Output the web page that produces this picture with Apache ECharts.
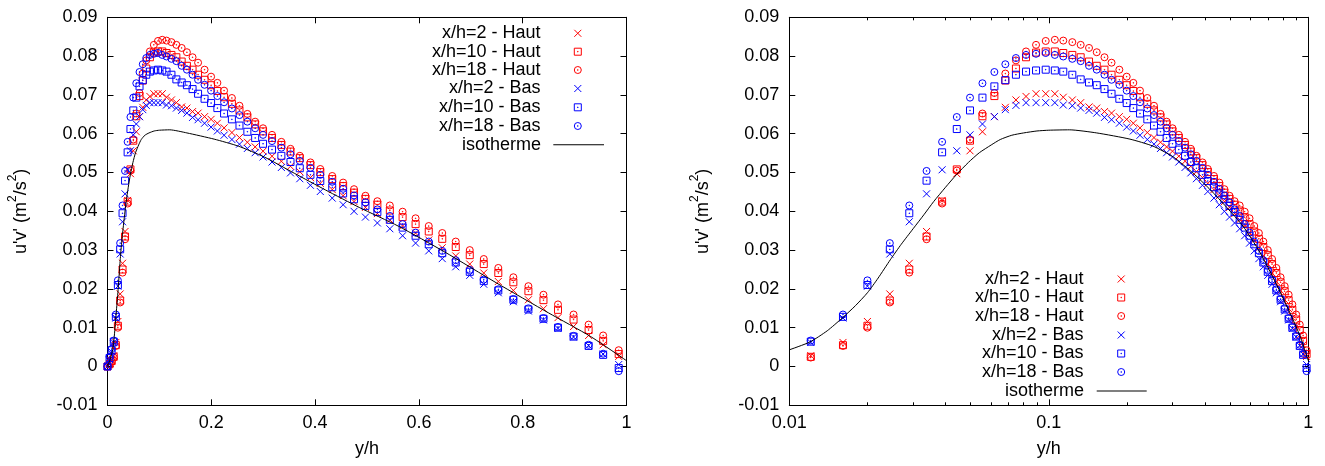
<!DOCTYPE html>
<html><head><meta charset="utf-8">
<script src="https://cdn.jsdelivr.net/npm/echarts@6/dist/echarts.min.js"></script>
<style>html,body{margin:0;padding:0;background:#fff}#c{width:1325px;height:466px}</style>
</head><body><div id="c"></div>
<script>
// ---- data (y/h positions and u'v' values) ----
const xPos = [0, 0.004, 0.008,
  0.0121, 0.0161, 0.0200, 0.0244, 0.0290, 0.0338, 0.0388, 0.0442, 0.0497, 0.0555,
  0.0617, 0.0680, 0.0747, 0.0817, 0.0893, 0.0973, 0.1055, 0.1137, 0.1232, 0.1327,
  0.1429, 0.1530, 0.1639, 0.1745, 0.1870, 0.1996,
  0.2117, 0.2246, 0.2397, 0.2543, 0.2695, 0.2845, 0.2997, 0.317, 0.335, 0.3526,
  0.3705, 0.391, 0.410, 0.433, 0.454, 0.475, 0.497, 0.520, 0.544,
  0.5686, 0.5936, 0.619, 0.645, 0.671, 0.698, 0.725, 0.753, 0.782, 0.811, 0.840,
  0.868, 0.898, 0.927, 0.955, 0.985];

const haut2 = [0, 0.0008, 0.0016,
  0.0028, 0.0062, 0.0116, 0.0187, 0.0266, 0.0348, 0.0428, 0.0497, 0.0556, 0.0605,
  0.0644, 0.0668, 0.0687, 0.0696, 0.0703, 0.0703, 0.0703, 0.0694, 0.0687, 0.0680,
  0.0669, 0.0666, 0.0657, 0.0653, 0.0644, 0.0637,
  0.0627, 0.0615, 0.0603, 0.0590, 0.0578, 0.0566, 0.0555, 0.0542, 0.0529, 0.0516,
  0.0502, 0.0487, 0.0472, 0.0456, 0.0440, 0.0425, 0.0410, 0.0394, 0.0378,
  0.0362, 0.0344, 0.0326, 0.0306, 0.0285, 0.0264, 0.0241, 0.0219, 0.0196, 0.0172,
  0.0149, 0.0126, 0.0103, 0.0080, 0.0056, 0.0026];

const haut10 = [0, 0.0006, 0.0014,
  0.0025, 0.0055, 0.0105, 0.0170, 0.0250, 0.0335, 0.0425, 0.0508, 0.0582, 0.0645,
  0.0697, 0.0737, 0.0768, 0.0797, 0.0809, 0.0812, 0.0812, 0.0808, 0.0803, 0.0797,
  0.0786, 0.0775, 0.0765, 0.0752, 0.0739, 0.0725,
  0.0710, 0.0694, 0.0677, 0.0660, 0.0642, 0.0624, 0.0606, 0.0589, 0.0571, 0.0554,
  0.0537, 0.0519, 0.0501, 0.0483, 0.0465, 0.0448, 0.0432, 0.0417, 0.0402,
  0.0385, 0.0367, 0.0348, 0.0329, 0.0308, 0.0287, 0.0264, 0.0241, 0.0217, 0.0194,
  0.0171, 0.0146, 0.0121, 0.0094, 0.0066, 0.0032];

const haut18 = [0, 0.0005, 0.0013,
  0.0023, 0.0053, 0.0100, 0.0165, 0.0242, 0.0328, 0.0420, 0.0505, 0.0585, 0.0652,
  0.0705, 0.0755, 0.0789, 0.0812, 0.0829, 0.0839, 0.0842, 0.0840, 0.0836, 0.0829,
  0.0821, 0.0810, 0.0797, 0.0783, 0.0765, 0.0747,
  0.0731, 0.0711, 0.0692, 0.0672, 0.0651, 0.0631, 0.0614, 0.0597, 0.0579, 0.0561,
  0.0543, 0.0526, 0.0509, 0.0491, 0.0474, 0.0457, 0.0440, 0.0426, 0.0415,
  0.0399, 0.0382, 0.0362, 0.0344, 0.0322, 0.0300, 0.0277, 0.0254, 0.0230, 0.0207,
  0.0185, 0.0160, 0.0134, 0.0108, 0.0080, 0.0042];

const bas2 = [0, 0.0018, 0.0038,
  0.0062, 0.0125, 0.0207, 0.0290, 0.0373, 0.0445, 0.0507, 0.0556, 0.0597, 0.0625,
  0.0644, 0.0662, 0.0673, 0.0680, 0.0680, 0.0680, 0.0680, 0.0674, 0.0672, 0.0666,
  0.0660, 0.0653, 0.0642, 0.0636, 0.0627, 0.0617,
  0.0607, 0.0596, 0.0585, 0.0573, 0.0562, 0.0551, 0.0540, 0.0527, 0.0513, 0.0499,
  0.0484, 0.0467, 0.0451, 0.0434, 0.0417, 0.0400, 0.0385, 0.0370, 0.0355,
  0.0337, 0.0318, 0.0298, 0.0278, 0.0257, 0.0235, 0.0212, 0.0190, 0.0167, 0.0143,
  0.0120, 0.0098, 0.0076, 0.0054, 0.0032, 0.0005];

const bas10 = [0, 0.0022, 0.0042,
  0.0064, 0.0128, 0.0210, 0.0302, 0.0395, 0.0479, 0.0552, 0.0612, 0.0660, 0.0693,
  0.0722, 0.0738, 0.0752, 0.0760, 0.0763, 0.0765, 0.0763, 0.0760, 0.0752, 0.0740,
  0.0732, 0.0725, 0.0715, 0.0703, 0.0690, 0.0679,
  0.0666, 0.0652, 0.0637, 0.0621, 0.0605, 0.0589, 0.0574, 0.0559, 0.0543, 0.0527,
  0.0511, 0.0494, 0.0478, 0.0462, 0.0446, 0.0431, 0.0414, 0.0398, 0.0378,
  0.0358, 0.0337, 0.0315, 0.0292, 0.0268, 0.0244, 0.0220, 0.0196, 0.0172, 0.0147,
  0.0123, 0.0100, 0.0077, 0.0053, 0.0030, -0.0004];

const bas18 = [0, 0.0025, 0.0045,
  0.0067, 0.0134, 0.0222, 0.0318, 0.0415, 0.0504, 0.0579, 0.0643, 0.0693, 0.0730,
  0.0759, 0.0779, 0.0795, 0.0803, 0.0806, 0.0808, 0.0803, 0.0799, 0.0793, 0.0787,
  0.0775, 0.0765, 0.0752, 0.0739, 0.0726, 0.0711,
  0.0697, 0.0681, 0.0665, 0.0648, 0.0631, 0.0614, 0.0597, 0.0581, 0.0564, 0.0547,
  0.0530, 0.0512, 0.0494, 0.0476, 0.0458, 0.0441, 0.0423, 0.0405, 0.0388,
  0.0367, 0.0345, 0.0322, 0.0298, 0.0274, 0.0249, 0.0224, 0.0199, 0.0174, 0.0150,
  0.0125, 0.0102, 0.0079, 0.0056, 0.0033, -0.0012];

const isoX = [0, 0.005, 0.01, 0.012, 0.014, 0.016, 0.018, 0.02, 0.022, 0.0245, 0.027,
  0.03, 0.033, 0.036, 0.04, 0.044, 0.049, 0.054, 0.06, 0.065, 0.072, 0.08, 0.09, 0.1,
  0.12, 0.153, 0.2055, 0.252, 0.302, 0.36, 0.42, 0.485, 0.56, 0.65,
  0.75, 0.85, 0.93, 1.0];
const isoY = [0, 0.0018, 0.0043, 0.0063, 0.0092, 0.0125, 0.0157, 0.019, 0.0228, 0.0275, 0.0315,
  0.0355, 0.0391, 0.0425, 0.0462, 0.0494, 0.0526, 0.0551, 0.0571, 0.0585, 0.0596, 0.0602, 0.0607, 0.0609,
  0.061, 0.0602, 0.0586, 0.0568, 0.054, 0.0498, 0.0455, 0.041, 0.0362, 0.0295,
  0.0215, 0.0138, 0.0078, 0.0015];

const seriesNames = ['x/h=2 - Haut', 'x/h=10 - Haut', 'x/h=18 - Haut',
                     'x/h=2 - Bas', 'x/h=10 - Bas', 'x/h=18 - Bas'];
const lineName = 'isotherme';
const yTicksMin = -0.01, yTicksMax = 0.09, yTickStep = 0.01;
const logMinorTicks = [0.02, 0.03, 0.04, 0.05, 0.06, 0.07, 0.08, 0.09,
                       0.2, 0.3, 0.4, 0.5, 0.6, 0.7, 0.8, 0.9];

// ---- styling ----
const FONT = 'Liberation Sans, Arial, Helvetica, sans-serif';
const RED = '#ff0000', BLUE = '#0000ff';
const SYM_X = 'path://M0,0L10,10M10,0L0,10';
const SYM_SQ = 'path://M0,0L10,0L10,10L0,10ZM4.6,4.6L5.4,4.6L5.4,5.4L4.6,5.4Z';
const SYM_CI = 'path://M10,5A5,5,0,1,1,0,5A5,5,0,1,1,10,5ZM4.6,4.6L5.4,4.6L5.4,5.4L4.6,5.4Z';
const seriesVals = [haut2, haut10, haut18, bas2, bas10, bas18];
const seriesSym = [SYM_X, SYM_SQ, SYM_CI, SYM_X, SYM_SQ, SYM_CI];
const seriesCol = [RED, RED, RED, BLUE, BLUE, BLUE];

function pairs(xs, ys, minX) {
  const out = [];
  for (let i = 0; i < xs.length; i++) if (xs[i] >= minX) out.push([xs[i], ys[i]]);
  return out;
}

const axisLineS = { show: true, onZero: false, lineStyle: { color: '#000', width: 1 } };
const labelS = { fontFamily: FONT, fontSize: 18, color: '#000' };
const yName = "{a|u'v' (m}{b|2}{a|/s}{b|2}{a|)}";
const yNameStyle = {
  fontFamily: FONT, fontSize: 18, color: '#000',
  rich: {
    a: { fontFamily: FONT, fontSize: 18, color: '#000', lineHeight: 24, verticalAlign: 'bottom' },
    b: { fontFamily: FONT, fontSize: 12, color: '#000', lineHeight: 14, verticalAlign: 'top' }
  }
};

function xLinear(pos, showLabel) {
  return {
    type: 'value', gridIndex: 0, position: pos, min: 0, max: 1, interval: 0.2,
    axisLine: axisLineS, axisTick: { show: true, inside: true, length: 6, lineStyle: { color: '#000' } },
    axisLabel: Object.assign({ show: showLabel, margin: 9 }, labelS),
    splitLine: { show: false },
    name: showLabel ? 'y/h' : '', nameLocation: 'middle', nameGap: 35,
    nameTextStyle: labelS
  };
}
function xLog(pos, showLabel, minor) {
  const a = {
    type: 'log', logBase: 10, gridIndex: 1, position: pos, min: 0.01, max: 1,
    axisLine: minor ? { show: false, onZero: false } : axisLineS,
    axisTick: { show: true, inside: true, length: minor ? 3 : 6, lineStyle: { color: '#000' } },
    axisLabel: Object.assign({ show: showLabel, margin: 9 }, labelS),
    splitLine: { show: false }, minorTick: { show: false },
    name: showLabel ? 'y/h' : '', nameLocation: 'middle', nameGap: 35,
    nameTextStyle: labelS
  };
  if (minor) a.axisTick.customValues = logMinorTicks;
  return a;
}
function yAx(grid, pos, showLabel) {
  return {
    type: 'value', gridIndex: grid, position: pos, min: yTicksMin, max: yTicksMax, interval: yTickStep,
    axisLine: axisLineS, axisTick: { show: true, inside: true, length: 6, lineStyle: { color: '#000' } },
    axisLabel: Object.assign({ show: showLabel, margin: 10 }, labelS),
    splitLine: { show: false },
    name: showLabel ? yName : '', nameLocation: 'middle', nameGap: 77,
    nameTextStyle: yNameStyle
  };
}

const series = [];
[[0, 0, 0], [1, 2, 2]].forEach(([panel, xi, yi]) => {
  const minX = panel === 0 ? -1 : 0.01;
  seriesNames.forEach((nm, k) => {
    series.push({
      type: 'scatter', name: nm, xAxisIndex: xi, yAxisIndex: yi,
      data: pairs(xPos, seriesVals[k], minX),
      symbol: seriesSym[k], symbolSize: 7,
      itemStyle: { color: 'rgba(0,0,0,0)', borderColor: seriesCol[k], borderWidth: 1, opacity: 1 },
      emphasis: { disabled: true }, silent: true
    });
  });
  series.push({
    type: 'line', name: lineName, xAxisIndex: xi, yAxisIndex: yi,
    data: pairs(isoX, isoY, minX), symbol: 'none', smooth: 0.2,
    lineStyle: { color: '#000', width: 1 }, itemStyle: { color: '#000' },
    emphasis: { disabled: true }, silent: true
  });
});

// legends: one per row so that texts right-align and icons line up
function legendRows(rowCenters, symCenterX, lineLeft, lineRight, textRight) {
  const out = [];
  seriesNames.forEach((nm, k) => {
    const icoLeft = symCenterX - 3.5;
    out.push({
      data: [nm], orient: 'vertical', align: 'right', selectedMode: false,
      right: 1325 - (symCenterX + 3.5), top: rowCenters[k] - 9, padding: 0,
      itemWidth: 7, itemHeight: 7, icon: seriesSym[k],
      itemStyle: { color: 'rgba(0,0,0,0)', borderColor: seriesCol[k], borderWidth: 1 },
      textStyle: { fontFamily: FONT, fontSize: 18, color: '#000', lineHeight: 18,
                   padding: [0, icoLeft - 5 - textRight, 0, 0] }
    });
  });
  out.push({
    data: [lineName], orient: 'vertical', align: 'right', selectedMode: false,
    right: 1325 - lineRight, top: rowCenters[6] - 9, padding: 0,
    itemWidth: lineRight - lineLeft, itemHeight: 1, icon: 'rect',
    itemStyle: { color: '#000', borderWidth: 0 },
    textStyle: { fontFamily: FONT, fontSize: 18, color: '#000', lineHeight: 18,
                 padding: [0, lineLeft - 5 - textRight, 0, 0] }
  });
  return out;
}

const legends = legendRows([33.3, 51.7, 70, 88.5, 107.3, 126, 144.7], 578.3, 553.3, 604, 541)
  .concat(legendRows([279, 297.5, 316, 335, 353.5, 372, 391], 1121.7, 1096.7, 1146.7, 1084));

const option = {
  animation: false,
  backgroundColor: '#fff',
  grid: [
    { left: 107.5, top: 17.3, width: 519, height: 388, containLabel: false },
    { left: 789.3, top: 17.3, width: 519, height: 388, containLabel: false }
  ],
  xAxis: [
    xLinear('bottom', true), xLinear('top', false),
    xLog('bottom', true, false), xLog('top', false, false),
    xLog('bottom', false, true), xLog('top', false, true)
  ],
  yAxis: [
    yAx(0, 'left', true), yAx(0, 'right', false),
    yAx(1, 'left', true), yAx(1, 'right', false)
  ],
  legend: legends,
  series: series
};

const chart = echarts.init(document.getElementById('c'), null, { renderer: 'canvas' });
chart.setOption(option);
</script>
</body></html>
